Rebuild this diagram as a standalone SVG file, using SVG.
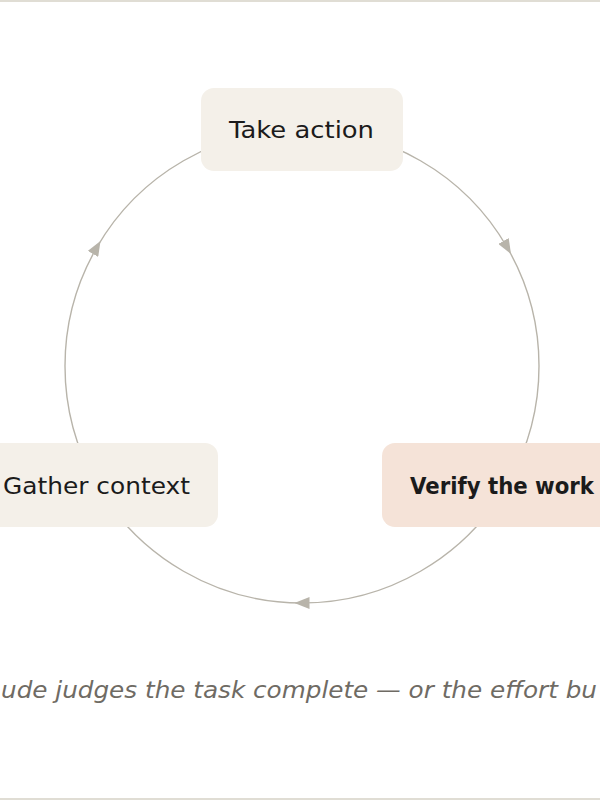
<svg xmlns="http://www.w3.org/2000/svg" width="600" height="800" viewBox="0 0 600 800">
<defs>
<style>
.box{fill:#f4f0e9;}
.hl{fill:#f5e3d8;}
.lbl{font-family:"DejaVu Sans","Noto Sans","Liberation Sans",sans-serif;font-size:23px;fill:#1b1b1b;}
.bold{font-weight:700;}
.conn{fill:none;stroke:#b8b4aa;stroke-width:1.4;}
.cap{font-family:"DejaVu Sans","Noto Sans","Liberation Sans",sans-serif;font-size:22.5px;font-style:italic;fill:#6f6b64;}
</style>
<marker id="ah" viewBox="0 0 15 12" refX="7.5" refY="6" markerWidth="15" markerHeight="12" markerUnits="userSpaceOnUse" orient="auto">
<path d="M0,0 L15,6 L0,12 z" fill="#b8b4aa"/>
</marker>
</defs>
<rect x="0" y="0" width="600" height="800" fill="#ffffff"/>
<rect x="0" y="0" width="600" height="2" fill="#e0ddd4"/>
<rect x="0" y="798" width="600" height="2" fill="#e0ddd4"/>
<g id="connectors">
<path class="conn" marker-mid="url(#ah)" d="M302,129 A237,237 0 0 1 507.25,247.5 A237,237 0 0 1 507.25,484.5"/>
<path class="conn" marker-mid="url(#ah)" d="M507.25,484.5 A237,237 0 0 1 302,603 A237,237 0 0 1 96.75,484.5"/>
<path class="conn" marker-mid="url(#ah)" d="M96.75,484.5 A237,237 0 0 1 96.75,247.5 A237,237 0 0 1 302,129"/>
</g>
<g id="take-action">
<rect class="box" x="201" y="88" width="202" height="83" rx="13"/>
<text class="lbl" x="229" y="138" textLength="145" lengthAdjust="spacingAndGlyphs">Take action</text>
</g>
<g id="gather-context">
<rect class="box" x="-24" y="443" width="242" height="84" rx="13"/>
<text class="lbl" x="3" y="494" textLength="187" lengthAdjust="spacingAndGlyphs">Gather context</text>
</g>
<g id="verify-work">
<rect class="hl" x="382" y="443" width="250" height="84" rx="13"/>
<text class="lbl bold" x="410" y="494" textLength="184" lengthAdjust="spacingAndGlyphs">Verify the work</text>
</g>
<text class="cap" x="1" y="698" textLength="596" lengthAdjust="spacingAndGlyphs">ude judges the task complete — or the effort bu</text>
</svg>
